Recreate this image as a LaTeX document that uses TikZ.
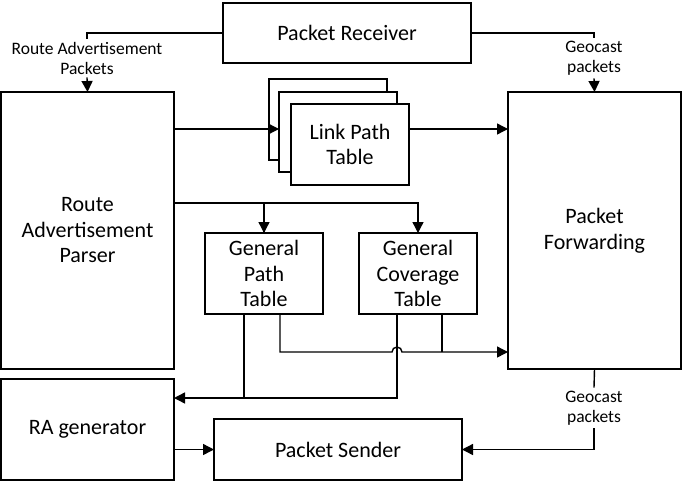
\documentclass[tikz,border=0pt]{standalone}
\usepackage{fontspec}
\setmainfont{Carlito}
\usetikzlibrary{arrows.meta}

\newcommand{\boxfont}{\fontsize{22}{25.5}\selectfont}
\newcommand{\lblfont}{\fontsize{17.5}{20}\selectfont}

\begin{document}
\begin{tikzpicture}[
        x=1pt, y=-1pt,
        block/.style={draw, fill=white, line width=1.5pt, align=center, font=\boxfont,
            inner sep=0pt, outer sep=0pt},
        lbl/.style={align=center, font=\lblfont, inner sep=1pt},
        link/.style={line width=1.4pt},
        arr/.style={link, -{Triangle[length=11pt,width=11pt]}}
    ]
    \useasboundingbox (0,0) rectangle (685,482);

    % top row
    \node[block, minimum width=248pt, minimum height=60pt] (recv) at (347,33) {Packet Receiver};
    \node[lbl] (ralbl) at (87,58) {Route Advertisement\\Packets};
    \node[lbl] (geolbl) at (594,58) {Geocast\\packets};

    % big side blocks
    \node[block, minimum width=173pt, minimum height=277pt] (parser) at (87.5,230.5) {Route\\Advertisement\\Parser};
    \node[block, minimum width=173pt, minimum height=277pt] (fwd) at (594.5,230.5) {Packet\\Forwarding};

    % link path tables (stacked)
    \node[block, minimum width=118pt, minimum height=81pt] (lpt3) at (328,119.5) {};
    \node[block, minimum width=118pt, minimum height=80pt] (lpt2) at (338,132) {};
    \node[block, minimum width=118pt, minimum height=81pt] (lpt) at (350,144.5) {Link Path\\Table};

    % general tables
    \node[block, minimum width=118pt, minimum height=81pt] (gpt) at (264,273.5) {General\\Path\\Table};
    \node[block, minimum width=118pt, minimum height=81pt] (gct) at (418,273.5) {General\\Coverage\\Table};

    % bottom row
    \node[block, minimum width=173pt, minimum height=101pt] (rag) at (87.5,429.5) {RA generator};
    \node[block, minimum width=248pt, minimum height=61pt] (send) at (338,449.5) {Packet Sender};
    \node[lbl] (geolbl2) at (594,408) {Geocast\\packets};

    % receiver outputs
    \draw[link] (recv.west) -| ([yshift=2pt]ralbl.north);
    \draw[link] (recv.east) -| ([yshift=2pt]geolbl.north);
    \draw[arr] ([yshift=-2pt]ralbl.south) -- (parser.north);
    \draw[arr] ([yshift=-2pt]geolbl.south) -- (fwd.north);

    % parser to tables
    \draw[arr] (parser.east |- 0,129) -- (lpt2.west |- 0,129);
    \draw[arr] (lpt.east |- 0,129) -- (fwd.west |- 0,129);
    \draw[link] (parser.east |- 0,203) -| (gpt.north);
    \draw[arr] (gpt.north |- 0,203) -- (gpt.north);
    \draw[arr] (gpt.north |- 0,203) -| (gct.north);

    % tables to forwarding (hop over)
    \draw[arr] (280,314) |- (392,352) arc[start angle=180, end angle=0, radius=5pt] -- (fwd.west |- 0,352);
    \draw[link] (442,314) -- (442,352);

    % tables to RA generator
    \draw[arr] (397,314) |- (rag.east |- 0,398);
    \draw[link] (244,314) -- (244,398);

    % bottom connections
    \draw[arr] (rag.east |- send.west) -- (send.west);
    \draw[link] (fwd.south) -- ([yshift=2pt]geolbl2.north);
    \draw[arr] ([yshift=-2pt]geolbl2.south) |- (send.east);
\end{tikzpicture}
\end{document}
